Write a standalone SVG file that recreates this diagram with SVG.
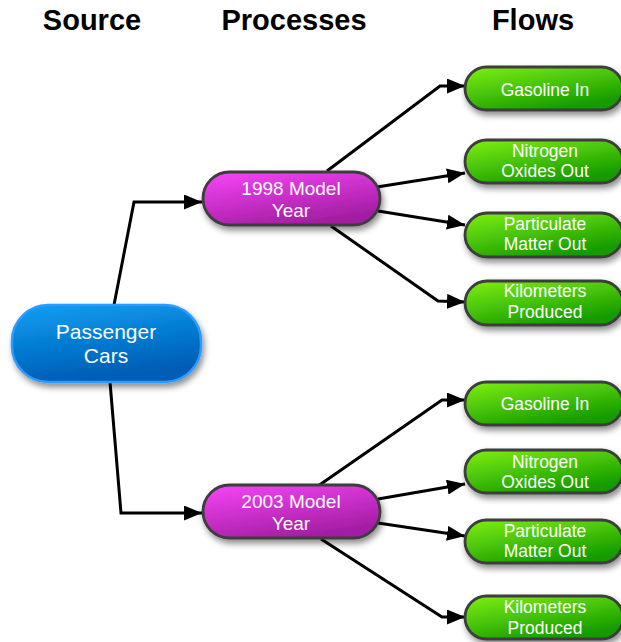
<svg xmlns="http://www.w3.org/2000/svg" width="621" height="642" viewBox="0 0 621 642">
<defs>
<linearGradient id="gBlue" x1="0" y1="0" x2="0.3" y2="1">
<stop offset="0" stop-color="#0ba0f5"/><stop offset="1" stop-color="#005cb4"/>
</linearGradient>
<linearGradient id="gMag" x1="0" y1="0" x2="0.5" y2="1">
<stop offset="0" stop-color="#f845f8"/><stop offset="1" stop-color="#a41ea4"/>
</linearGradient>
<linearGradient id="gGreen" x1="0" y1="0" x2="0.6" y2="1">
<stop offset="0" stop-color="#80f010"/><stop offset="1" stop-color="#129a00"/>
</linearGradient>
<filter id="sh" x="-20%" y="-30%" width="150%" height="180%">
<feDropShadow dx="2" dy="4" stdDeviation="3" flood-color="#000" flood-opacity="0.45"/>
</filter>
<marker id="ah" markerUnits="userSpaceOnUse" markerWidth="20" markerHeight="16" refX="18" refY="7.5" orient="auto">
<path d="M0,0 L18,7.5 L0,15 Z" fill="#000"/>
</marker>
</defs>
<style>
.hdr{font-family:"Liberation Sans",Arial,sans-serif;font-weight:bold;font-size:29px;fill:#000;text-anchor:middle}
.t{font-family:"Liberation Sans",Arial,sans-serif;fill:#fff;text-anchor:middle}
.tg{font-size:17.5px}
.tp{font-size:19px}
.ts{font-size:21px}
.c{fill:none;stroke:#000;stroke-width:3;marker-end:url(#ah)}
.green{fill:url(#gGreen);stroke:#3c3c3c;stroke-width:2.8;filter:url(#sh)}
.mag{fill:url(#gMag);stroke:#3c3c3c;stroke-width:2.8;filter:url(#sh)}
.blue{fill:url(#gBlue);stroke:#2a9cff;stroke-width:2.5;filter:url(#sh)}
</style>
<rect width="621" height="642" fill="#fff"/>
<text class="hdr" x="92" y="30">Source</text>
<text class="hdr" x="294" y="30">Processes</text>
<text class="hdr" x="533" y="30">Flows</text>
<g id="connectors">
<path class="c" d="M114,305 L134,202 L202,202"/>
<path class="c" d="M110,382 L121,513 L202,513"/>
<path class="c" d="M327,171 L440,86 L465,86"/>
<path class="c" d="M377,187 L465,173"/>
<path class="c" d="M378,211 L465,225"/>
<path class="c" d="M331,226 L438,301 L465,302"/>
<path class="c" d="M318,486 L442,400 L465,400"/>
<path class="c" d="M378,499 L465,484"/>
<path class="c" d="M378,523 L465,536"/>
<path class="c" d="M321,539 L442,617 L465,617"/>
</g>
<g id="passenger-cars">
<rect class="blue" x="12" y="305" width="189" height="77" rx="36"/>
<text class="t ts" x="106" y="339">Passenger</text>
<text class="t ts" x="106" y="363">Cars</text>
</g>
<g id="model-1998">
<rect class="mag" x="203" y="172" width="177" height="53" rx="26.5"/>
<text class="t tp" x="291" y="195">1998 Model</text>
<text class="t tp" x="291" y="217">Year</text>
</g>
<g id="model-2003">
<rect class="mag" x="203" y="485" width="177" height="53" rx="26.5"/>
<text class="t tp" x="291" y="508">2003 Model</text>
<text class="t tp" x="291" y="530">Year</text>
</g>
<g id="gasoline-1">
<rect class="green" x="465" y="67" width="158" height="43" rx="21.5"/>
<text class="t tg" x="545" y="96">Gasoline In</text>
</g>
<g id="nox-1">
<rect class="green" x="465" y="140" width="158" height="43" rx="21.5"/>
<text class="t tg" x="545" y="157">Nitrogen</text>
<text class="t tg" x="545" y="177">Oxides Out</text>
</g>
<g id="pm-1">
<rect class="green" x="465" y="213" width="158" height="44" rx="22"/>
<text class="t tg" x="545" y="230">Particulate</text>
<text class="t tg" x="545" y="250">Matter  Out</text>
</g>
<g id="km-1">
<rect class="green" x="465" y="281" width="158" height="44" rx="22"/>
<text class="t tg" x="545" y="297">Kilometers</text>
<text class="t tg" x="545" y="318">Produced</text>
</g>
<g id="gasoline-2">
<rect class="green" x="465" y="382" width="158" height="43" rx="21.5"/>
<text class="t tg" x="545" y="410">Gasoline In</text>
</g>
<g id="nox-2">
<rect class="green" x="465" y="450" width="158" height="43" rx="21.5"/>
<text class="t tg" x="545" y="468">Nitrogen</text>
<text class="t tg" x="545" y="488">Oxides Out</text>
</g>
<g id="pm-2">
<rect class="green" x="465" y="520" width="158" height="43" rx="21.5"/>
<text class="t tg" x="545" y="537">Particulate</text>
<text class="t tg" x="545" y="557">Matter Out</text>
</g>
<g id="km-2">
<rect class="green" x="465" y="596" width="158" height="43" rx="21.5"/>
<text class="t tg" x="545" y="613">Kilometers</text>
<text class="t tg" x="545" y="634">Produced</text>
</g>
</svg>
